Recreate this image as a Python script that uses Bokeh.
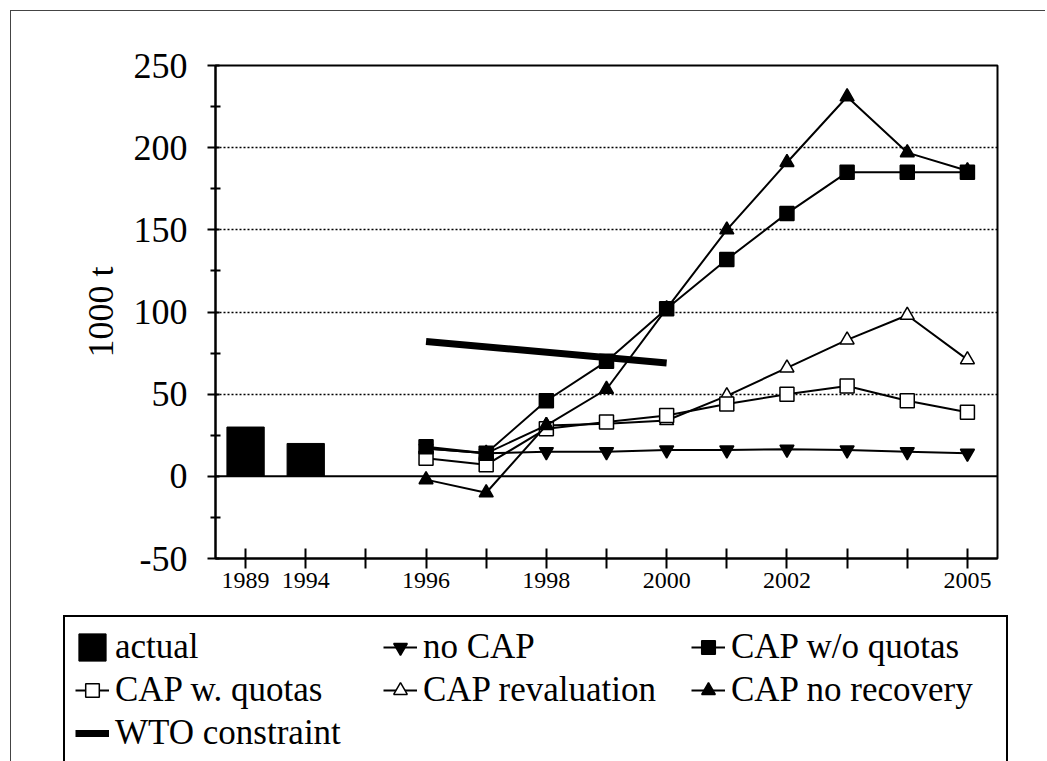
from bokeh.plotting import figure
from bokeh.layouts import column, row
from bokeh.models import FixedTicker, Span, Legend, LegendItem
from bokeh.embed import file_html
from bokeh.resources import INLINE

# ---- data ----
slots = ["1989", "1994", "gap", "1996", "1997", "1998", "1999", "2000",
         "2001", "2002", "2003", "2004", "2005"]
tick_labels = ["1989", "1994", "", "1996", "", "1998", "", "2000",
               "", "2002", "", "", "2005"]

actual_years = ["1989", "1994"]
actual = [30, 20]

scen_years = ["1996", "1997", "1998", "1999", "2000", "2001", "2002", "2003", "2004", "2005"]
no_cap = [17, 14, 15, 15, 16, 16, 16.5, 16, 15, 14]
cap_wo_quotas = [18, 14, 46, 70, 102, 132, 160, 185, 185, 185]
cap_w_quotas = [11, 7, 29, 33, 37, 44, 50, 55, 46, 39]
cap_reval = [17, 14, 31, 32, 34, 49, 66, 83, 98, 71]
cap_no_rec = [-2, -10, 31, 53, 102, 150, 191, 231, 197, 186]

wto_years = ["1996", "2000"]
wto = [82, 69]

y_ticks = [-50, 0, 50, 100, 150, 200, 250]
y_tick_labels = ["-50", "0", "50", "100", "150", "200", "250"]
grid_vals = [50, 100, 150, 200]

legend_labels = ["actual", "no CAP", "CAP w/o quotas", "CAP w. quotas",
                 "CAP revaluation", "CAP no recovery", "WTO constraint"]


def pos(years):
    return [slots.index(y) for y in years]


FONT = "Liberation Serif"
MS = 14
LW = 2


def draw_all(fig):
    out = {}
    out["actual"] = [fig.vbar(x=pos(actual_years), top=actual, bottom=0, width=0.62,
                              fill_color="black", line_color="black")]
    out["wto"] = [fig.line(pos(wto_years), wto, line_color="black", line_width=7)]
    xs = pos(scen_years)

    def series(vals, marker, fill):
        ln = fig.line(xs, vals, line_color="black", line_width=LW)
        sc = fig.scatter(xs, vals, marker=marker, size=MS, line_color="black",
                         fill_color=fill, line_width=1.5)
        return [ln, sc]

    out["nocap"] = series(no_cap, "inverted_triangle", "black")
    out["reval"] = series(cap_reval, "triangle", "white")
    out["wq"] = series(cap_w_quotas, "square", "white")
    out["norec"] = series(cap_no_rec, "triangle", "black")
    out["woq"] = series(cap_wo_quotas, "square", "black")
    return out


# ---- main plot ----
p = figure(frame_width=782, frame_height=493, output_backend="svg", toolbar_location=None,
           x_range=(-0.5, len(slots) - 0.5), y_range=(-50, 250),
           min_border_left=204, min_border_right=48, min_border_top=54,
           min_border_bottom=45)
p.outline_line_color = "black"
p.outline_line_width = 2
p.background_fill_color = "white"
p.border_fill_color = "white"

xa = p.xaxis[0]
xa.ticker = FixedTicker(ticks=list(range(len(slots))))
xa.major_label_overrides = {i: t for i, t in enumerate(tick_labels)}
xa.major_tick_in = 10
xa.major_tick_out = 10
xa.minor_tick_line_color = None
xa.axis_line_width = 2
xa.major_tick_line_width = 2
xa.major_label_text_font = FONT
xa.major_label_text_font_size = "24px"
xa.major_label_standoff = 4
xa.major_label_text_color = "black"

ya = p.yaxis[0]
ya.ticker = FixedTicker(ticks=y_ticks, minor_ticks=[-25, 25, 75, 125, 175, 225])
ya.major_label_overrides = {v: t for v, t in zip(y_ticks, y_tick_labels)}
ya.major_tick_in = 4
ya.major_tick_out = 8
ya.minor_tick_in = 5
ya.minor_tick_out = 5
ya.axis_line_width = 2
ya.major_tick_line_width = 2
ya.minor_tick_line_width = 2
ya.major_label_text_font = FONT
ya.major_label_text_font_size = "36px"
ya.major_label_standoff = 20
ya.major_label_text_color = "black"
ya.axis_label = "1000 t"
ya.axis_label_text_font = FONT
ya.axis_label_text_font_size = "36px"
ya.axis_label_text_font_style = "normal"
ya.axis_label_text_color = "black"
ya.axis_label_standoff = 10

p.xgrid.visible = False
p.ygrid.ticker = FixedTicker(ticks=grid_vals)
p.ygrid.grid_line_color = "black"
p.ygrid.grid_line_dash = "2 2"
p.ygrid.grid_line_width = 1.5

p.add_layout(Span(location=0, dimension="width", line_color="black", line_width=2))

draw_all(p)

# ---- legend panel (same series drawn, outside its view) ----
q = figure(frame_width=982, frame_height=146, output_backend="svg", toolbar_location=None,
           x_range=(-0.5, len(slots) - 0.5), y_range=(1000, 1001),
           x_axis_type=None, y_axis_type=None,
           min_border_left=52, min_border_top=12, min_border_right=0, min_border_bottom=0)
q.outline_line_color = None
q.background_fill_color = "white"
q.border_fill_color = "white"
rq = draw_all(q)

keys = ["actual", "nocap", "woq", "wq", "reval", "norec", "wto"]
items = [LegendItem(label=lab, renderers=rq[k]) for lab, k in zip(legend_labels, keys)]
legend = Legend(items=items, location="top_left", orientation="horizontal", ncols=3,
                label_text_font=FONT, label_text_font_size="35px", label_text_color="black",
                glyph_width=34, glyph_height=34, label_standoff=6, label_width=265,
                spacing=3, padding=10, margin=0,
                border_line_color="black", border_line_width=2, border_line_alpha=1,
                background_fill_color="white", background_fill_alpha=1)
q.add_layout(legend)

lay = column(p, row(q), spacing=0,
             styles={"border-left": "1px solid #444", "border-top": "1px solid #444",
                     "margin-left": "10px", "margin-top": "10px"})

open("out.html", "w").write(file_html(lay, INLINE))
